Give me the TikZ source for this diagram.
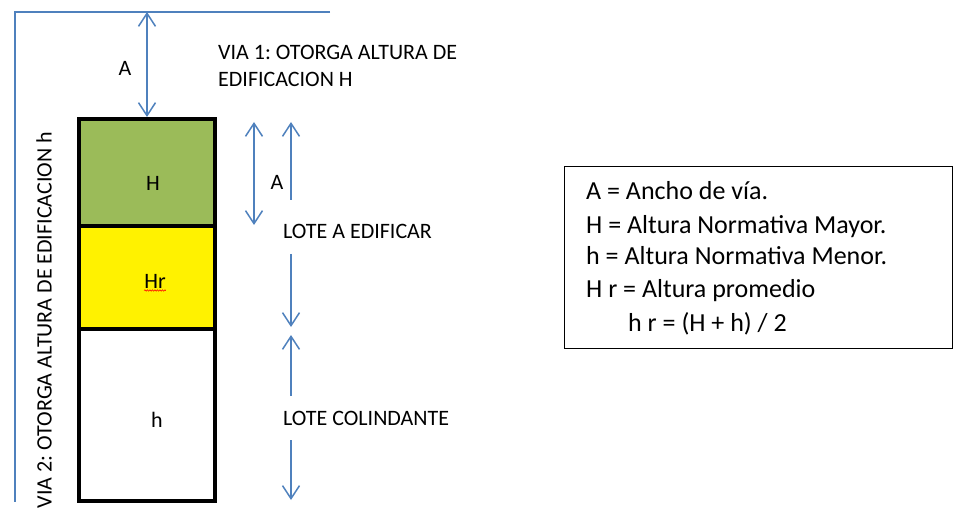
\documentclass[tikz,border=0pt]{standalone}
\usepackage{fontspec}
\setmainfont{Carlito}
\usetikzlibrary{arrows.meta,decorations.pathmorphing}
\definecolor{viablue}{RGB}{79,129,189}
\definecolor{lotegreen}{RGB}{155,187,89}
\frenchspacing

\begin{document}
\begin{tikzpicture}[x=1pt,y=-1pt]
    \useasboundingbox (0,0) rectangle (957,510);
        % lote: three bands
        \begin{scope}[every node/.style={rectangle,draw=black,line width=4pt,minimum width=136pt,inner sep=0}]
            \node[fill=lotegreen,minimum height=107pt] (BoxH) at (147,172.5) {};
            \node[fill=yellow,minimum height=103pt] (BoxHr) at (147,277.5) {};
            \node[fill=white,minimum height=172pt] (Boxh) at (147,415) {};
        \end{scope}
        \begin{scope}[every node/.style={inner sep=0,font=\fontsize{22}{26.5}\selectfont}]
            \node (LblH) at (153,183) {H};
            \node[anchor=base] (LblHr) at (155,288) {Hr};
            \node (Lblh) at (157,420) {h};
            \node (LblA1) at (125,68) {A};
            \node (LblA2) at (277,182) {A};
            \node[anchor=west,align=left] (Via1) at (218,66) {VIA 1: OTORGA ALTURA DE\\EDIFICACION H};
            \node[anchor=west] (LoteEdif) at (283,231) {LOTE A EDIFICAR};
            \node[anchor=west] (LoteColin) at (283,418) {LOTE COLINDANTE};
            \node[rotate=90] (Via2) at (44,320) {VIA 2: OTORGA ALTURA DE EDIFICACION h};
        \end{scope}
        \draw[red,line width=0.6pt,decorate,decoration={snake,amplitude=0.7pt,segment length=2.5pt}]
            ([yshift=-2.5pt]LblHr.base west) -- ([yshift=-2.5pt]LblHr.base east);
        % vias and dimensions
        \coordinate (ViaEnd) at (330,12);
        \coordinate (ViaCorner) at (15,12);
        \coordinate (ViaFoot) at (15,502);
        \coordinate (ViaA) at (147,12);
        \coordinate (FrontTop) at (254,122);
        \coordinate (FrontBot) at (254,225);
        \coordinate (EdifTop) at (291,122);
        \coordinate (EdifUp) at (291,200);
        \coordinate (EdifDown) at (291,254);
        \coordinate (EdifBot) at (291,327);
        \coordinate (ColinTop) at (291,335);
        \coordinate (ColinUp) at (291,396);
        \coordinate (ColinDown) at (291,440);
        \coordinate (ColinBot) at (291,500);
        \begin{scope}[every path/.style={viablue,line width=1.5pt,>={Straight Barb[length=13pt,width=17pt,line width=1.5pt]}}]
            \draw (ViaEnd) -- (ViaCorner) -- (ViaFoot);
            \draw[<->] (ViaA) -- (BoxH.north);
            \draw[<->] (FrontTop) -- (FrontBot);
            \draw[->] (EdifUp) -- (EdifTop);
            \draw[->] (EdifDown) -- (EdifBot);
            \draw[->] (ColinUp) -- (ColinTop);
            \draw[->] (ColinDown) -- (ColinBot);
        \end{scope}
        % legend
        \node[draw,line width=1.2pt,anchor=north west,minimum width=388pt,minimum height=182pt] (Legend) at (564,166) {};
        \begin{scope}[every node/.style={anchor=base west,inner sep=0,font=\fontsize{26}{32}\selectfont}]
            \node (LegA) at (586,200) {A = Ancho de vía.};
            \node (LegH) at (586,234) {H = Altura Normativa Mayor.};
            \node (Legh) at (586,265) {h = Altura Normativa Menor.};
            \node (LegHr) at (586,297) {H r = Altura promedio};
            \node (Leghr) at (628,331) {h r = (H + h) / 2};
        \end{scope}
    \end{tikzpicture}
\end{document}
